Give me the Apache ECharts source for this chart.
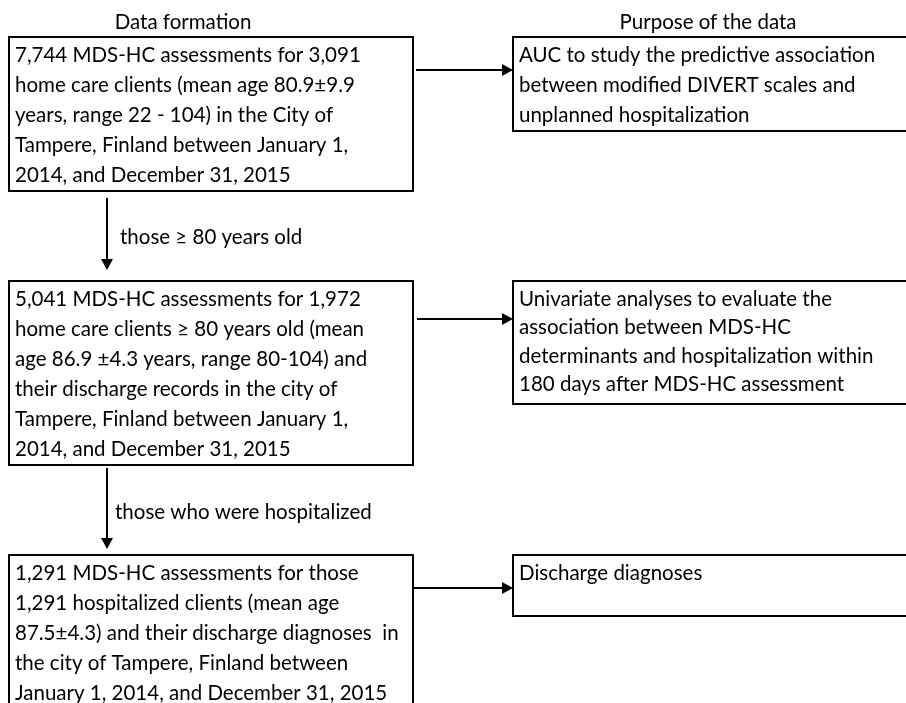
<!DOCTYPE html>
<html>
<head>
<meta charset="utf-8">
<script src="https://cdn.jsdelivr.net/npm/echarts@6/dist/echarts.min.js"></script>
<style>
  html, body { margin: 0; padding: 0; background: #fff; }
  #flow { width: 906px; height: 703px; }
</style>
</head>
<body>
<div id="flow"></div>
<script>
// column headings
var headings = ['Data formation', 'Purpose of the data'];

// left column: how the data was formed (one entry per line)
var formationTexts = [
    ['7,744 MDS-HC assessments for 3,091',
     'home care clients (mean age 80.9\u00b19.9',
     'years, range 22 - 104) in the City of',
     'Tampere, Finland between January 1,',
     '2014, and December 31, 2015'],
    ['5,041 MDS-HC assessments for 1,972',
     'home care clients \u2265 80 years old (mean',
     'age 86.9 \u00b14.3 years, range 80-104) and',
     'their discharge records in the city of',
     'Tampere, Finland between January 1,',
     '2014, and December 31, 2015'],
    ['1,291 MDS-HC assessments for those',
     '1,291 hospitalized clients (mean age',
     '87.5\u00b14.3) and their discharge diagnoses  in',
     'the city of Tampere, Finland between',
     'January 1, 2014, and December 31, 2015']
];

// right column: what each data set was used for
var purposeTexts = [
    ['AUC to study the predictive association',
     'between modified DIVERT scales and',
     'unplanned hospitalization'],
    ['Univariate analyses to evaluate the',
     'association between MDS-HC',
     'determinants and hospitalization within',
     '180 days after MDS-HC assessment'],
    ['Discharge diagnoses']
];

// labels on the downward arrows
var stepLabels = ['those \u2265 80 years old', 'those who were hospitalized'];

// layout of the drawing (pixels)
var layout = {
    font: 'Lato, "Open Sans", sans-serif',
    fontSize: 20.5,
    headingY: [22, 22],
    headingX: [183, 708],
    left: { x: 9, w: 404, y: [37, 281, 555], h: [154, 184, 170], lh: [30, 30, 30] },
    right: { x: 513, w: 400, y: [37, 281, 555], h: [94, 123, 61], lh: [30, 28.5, 30] },
    hArrowY: [70, 319, 588],
    hArrowX0: [416, 417, 413],
    vArrowX: 107,
    vArrowY: [[198, 270], [468, 549]],
    labelX: [120, 115],
    labelY: [237, 512]
};

var myChart = echarts.init(document.getElementById('flow'), null, { renderer: 'canvas' });

var flowInfo = {
    elements: [],
    box: function (x, y, w, h, lines, lh) {
        this.elements.push({
            type: 'rect',
            shape: { x: x, y: y, width: w, height: h },
            style: { fill: '#fff', stroke: '#000', lineWidth: 2 }
        });
        this.elements.push({
            type: 'text',
            x: x + 6,
            y: y + 18 - lh / 2,
            style: {
                text: lines.join('\n'),
                font: layout.fontSize + 'px ' + layout.font,
                fill: '#000',
                lineHeight: lh,
                verticalAlign: 'top',
                align: 'left'
            }
        });
    },
    arrow: function (x1, y1, x2, y2) {
        var horiz = y1 === y2;
        var head = 11, half = 6;
        this.elements.push({
            type: 'line',
            shape: horiz ? { x1: x1, y1: y1, x2: x2 - head, y2: y2 } : { x1: x1, y1: y1, x2: x2, y2: y2 - head },
            style: { stroke: '#000', lineWidth: 2 }
        });
        this.elements.push({
            type: 'polygon',
            shape: {
                points: horiz
                    ? [[x2, y2], [x2 - head, y2 - half], [x2 - head, y2 + half]]
                    : [[x2, y2], [x2 - half, y2 - head], [x2 + half, y2 - head]]
            },
            style: { fill: '#000' }
        });
    },
    label: function (text, x, y, align) {
        this.elements.push({
            type: 'text',
            x: x,
            y: y,
            style: {
                text: text,
                font: layout.fontSize + 'px ' + layout.font,
                fill: '#000',
                align: align || 'left',
                verticalAlign: 'middle'
            }
        });
    },
    init: function () {
        var _this = this;
        var L = layout;
        // headings
        headings.forEach(function (h, i) {
            _this.label(h, L.headingX[i], L.headingY[i], 'center');
        });
        // boxes
        formationTexts.forEach(function (lines, i) {
            _this.box(L.left.x, L.left.y[i], L.left.w, L.left.h[i], lines, L.left.lh[i]);
        });
        purposeTexts.forEach(function (lines, i) {
            _this.box(L.right.x, L.right.y[i], L.right.w, L.right.h[i], lines, L.right.lh[i]);
        });
        // horizontal arrows
        for (var i = 0; i < L.hArrowY.length; i++) {
            _this.arrow(L.hArrowX0[i], L.hArrowY[i], L.right.x, L.hArrowY[i]);
        }
        // downward arrows and their labels
        stepLabels.forEach(function (t, i) {
            _this.arrow(L.vArrowX, L.vArrowY[i][0], L.vArrowX, L.vArrowY[i][1]);
            _this.label(t, L.labelX[i], L.labelY[i]);
        });
    },
    chartInit: function () {
        this.init();
        myChart.setOption({
            backgroundColor: '#fff',
            animation: false,
            graphic: { elements: this.elements }
        });
    }
};
flowInfo.chartInit();
</script>
</body>
</html>
